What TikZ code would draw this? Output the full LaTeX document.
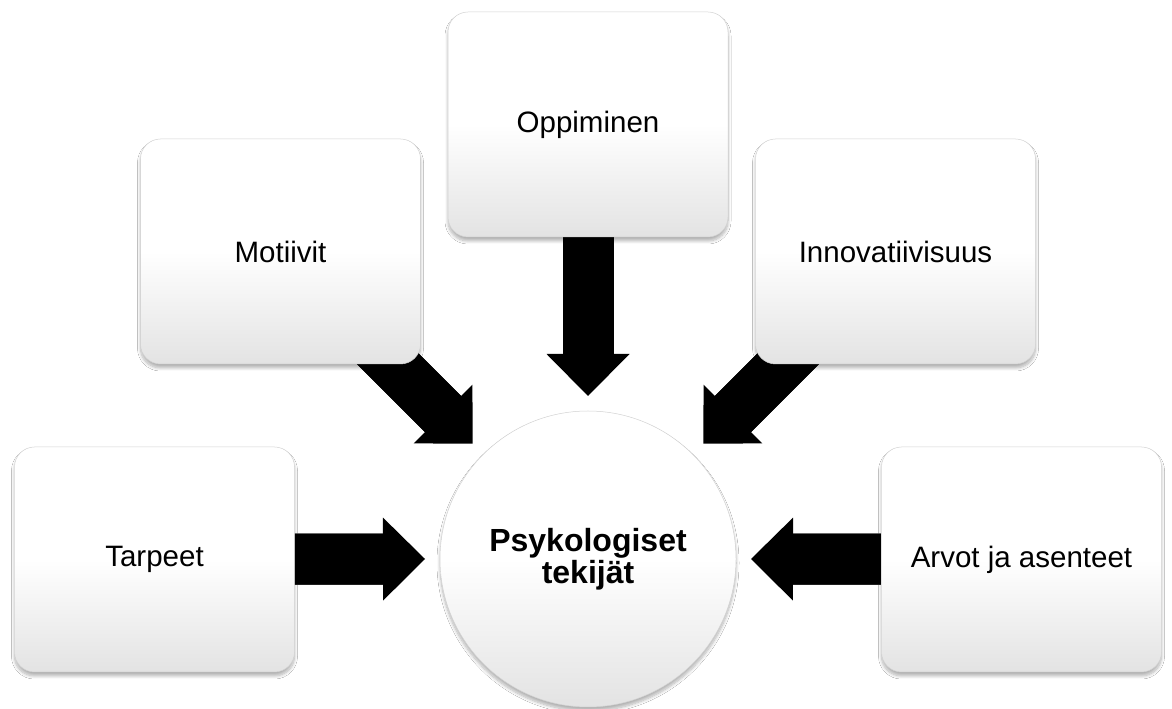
\documentclass[tikz,border=0pt]{standalone}
\usepackage{fontspec}
\setmainfont{Liberation Sans}
\usetikzlibrary{arrows.meta,shadows.blur,backgrounds,calc}
\begin{document}
\begin{tikzpicture}[x=1pt,y=1pt,
  box/.style={draw=gray!35, line width=0.5pt, rounded corners=20pt,
    minimum width=280pt, minimum height=225pt,
    top color=white, bottom color=gray!22, middle color=white,
    blur shadow={shadow xshift=0pt, shadow yshift=-4pt, shadow opacity=30, shadow blur steps=8, shadow blur radius=3pt},
    font=\fontsize{29.5}{34}\selectfont, inner sep=0pt},
  hub/.style={circle, draw=gray!35, line width=0.5pt, minimum size=296pt,
    top color=white, bottom color=gray!22, middle color=white,
    blur shadow={shadow xshift=0pt, shadow yshift=-4pt, shadow opacity=30, shadow blur steps=8, shadow blur radius=3pt},
    align=center, font=\fontsize{32}{32}\selectfont\bfseries, inner sep=0pt},
  blockarrow/.style={black, line width=51pt, -{Triangle[length=42pt,width=83pt,line width=0pt]}},
  shaftfill/.style={black, line width=51pt}
]
\useasboundingbox (0,0) rectangle (1172,709);
\node[hub] (hub) at (588,150) {Psykologiset\\tekijät};
\node[box] (tarp) at (154.5,149.5) {Tarpeet};
\node[box] (moti) at (280.5,457.5) {Motiivit};
\node[box] (oppi) at (588,584.5) {Oppiminen};
\node[box] (inno) at (895.5,457.5) {Innovatiivisuus};
\node[box] (arvo) at (1021.5,149.5) {Arvot ja asenteet};
\coordinate (tipL) at ($(hub.center)+(180:163)$);
\coordinate (tipUL) at ($(hub.center)+(135:163)$);
\coordinate (tipU) at ($(hub.center)+(90:163)$);
\coordinate (tipUR) at ($(hub.center)+(45:163)$);
\coordinate (tipR) at ($(hub.center)+(0:163)$);
\begin{scope}[on background layer]
\fill[white] (0,0) rectangle (1172,709);
\foreach \s/\t in {tarp/tipL, moti/tipUL, oppi/tipU, inno/tipUR, arvo/tipR}{
  \draw[blockarrow] (\s.center) -- (\t);
  \draw[shaftfill] (\s.center) -- ($(\t)!30pt!(\s.center)$);
}
\end{scope}
\end{tikzpicture}
\end{document}
